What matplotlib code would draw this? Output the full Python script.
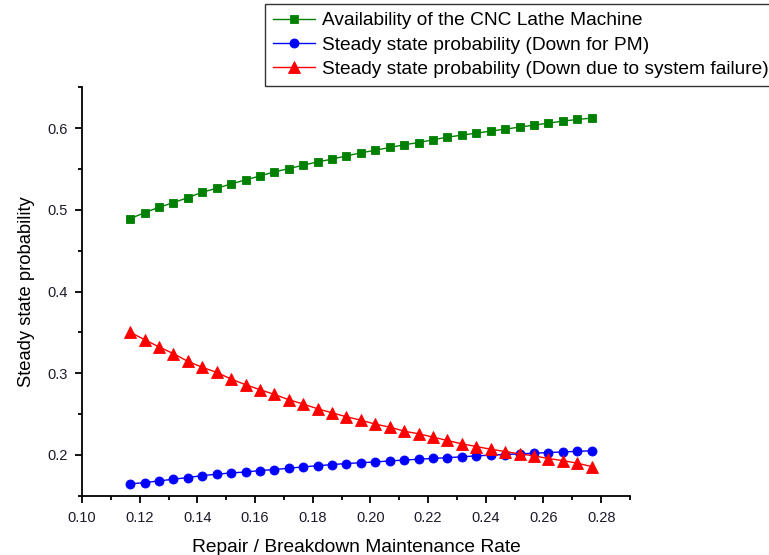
import matplotlib
matplotlib.use("Agg")
import matplotlib.pyplot as plt
from matplotlib.ticker import MultipleLocator, FormatStrFormatter

plt.rcParams['font.family'] = ['Liberation Sans', 'DejaVu Sans']

rate = [0.1167, 0.1217, 0.1267, 0.1317, 0.1367, 0.1417, 0.1467, 0.1517, 0.1567,
        0.1617, 0.1667, 0.1717, 0.1767, 0.1817, 0.1867, 0.1917, 0.1967, 0.2017,
        0.2067, 0.2117, 0.2167, 0.2217, 0.2267, 0.2317, 0.2367, 0.2417, 0.2467,
        0.2517, 0.2567, 0.2617, 0.2667, 0.2717, 0.2767]

availability = [0.4892, 0.4965, 0.5031, 0.5088, 0.5149, 0.5215, 0.5264, 0.5317,
                0.5366, 0.5415, 0.5464, 0.5505, 0.5546, 0.5587, 0.5620, 0.5661,
                0.5697, 0.5730, 0.5763, 0.5796, 0.5824, 0.5857, 0.5890, 0.5914,
                0.5939, 0.5963, 0.5988, 0.6012, 0.6037, 0.6061, 0.6086, 0.6106,
                0.6123]

down_pm = [0.1644, 0.1661, 0.1681, 0.1702, 0.1722, 0.1746, 0.1763, 0.1779,
           0.1790, 0.1808, 0.1820, 0.1836, 0.1853, 0.1867, 0.1881, 0.1894,
           0.1904, 0.1913, 0.1926, 0.1936, 0.1947, 0.1956, 0.1966, 0.1976,
           0.1988, 0.1996, 0.2004, 0.2012, 0.2020, 0.2028, 0.2036, 0.2043,
           0.2050]

down_failure = [0.3501, 0.3411, 0.3321, 0.3239, 0.3145, 0.3072, 0.3010, 0.2928,
                0.2859, 0.2798, 0.2740, 0.2675, 0.2622, 0.2564, 0.2515, 0.2466,
                0.2425, 0.2376, 0.2340, 0.2290, 0.2258, 0.2217, 0.2176, 0.2135,
                0.2102, 0.2069, 0.2041, 0.2012, 0.1988, 0.1955, 0.1930, 0.1898,
                0.1857]

labels = ["Availability of the CNC Lathe Machine",
          "Steady state probability (Down for PM)",
          "Steady state probability (Down due to system failure)"]

fig = plt.figure(figsize=(7.69, 5.55), dpi=100)
ax = fig.add_axes([82/769, 1 - 495.7/555, (630 - 82)/769, (495.7 - 87.3)/555])

h1, = ax.plot(rate, availability, color='#008000', marker='s', markersize=6,
              linewidth=1, markeredgewidth=0.6, markeredgecolor='#008000')
h2, = ax.plot(rate, down_pm, color='#0000FF', marker='o', markersize=6.5,
              linewidth=1, markeredgewidth=0.6, markeredgecolor='#0000FF')
h3, = ax.plot(rate, down_failure, color='#FF0000', marker='^', markersize=8.5,
              linewidth=1, markeredgewidth=0.6, markeredgecolor='#FF0000')

ax.set_xlim(0.10, 0.29)
ax.set_ylim(0.15, 0.65)
ax.xaxis.set_major_locator(MultipleLocator(0.02))
ax.xaxis.set_minor_locator(MultipleLocator(0.01))
ax.yaxis.set_major_locator(MultipleLocator(0.1))
ax.yaxis.set_minor_locator(MultipleLocator(0.05))
ax.xaxis.set_major_formatter(FormatStrFormatter('%.2f'))
ax.yaxis.set_major_formatter(FormatStrFormatter('%.1f'))
ax.set_yticks([0.2, 0.3, 0.4, 0.5, 0.6])

for s in ['top', 'right']:
    ax.spines[s].set_visible(False)
for s in ['left', 'bottom']:
    ax.spines[s].set_linewidth(1.3)
ax.tick_params(which='major', direction='out', length=5, width=1.3, labelsize=10.5, colors='black')
ax.tick_params(axis='x', which='major', pad=6)
ax.tick_params(axis='y', which='major', pad=5)
ax.tick_params(which='minor', direction='out', length=3, width=1.3)
for lab in ax.get_xticklabels() + ax.get_yticklabels():
    lab.set_color('#1a1a2a')

ax.set_xlabel("Repair / Breakdown Maintenance Rate", fontsize=13.8, labelpad=10)
ax.set_ylabel("Steady state probability", fontsize=13.2, labelpad=9)

leg = fig.legend([h1, h2, h3], labels, loc='upper left',
                 bbox_to_anchor=(265/769, 1 - 4/555), fontsize=13.8,
                 frameon=True, fancybox=False, shadow=False,
                 handlelength=2.2, handletextpad=0.36, borderpad=0.42,
                 labelspacing=0.35, borderaxespad=0)
leg.get_frame().set_edgecolor('black')
leg.get_frame().set_linewidth(1.0)

fig.savefig("out.png", dpi=100)
